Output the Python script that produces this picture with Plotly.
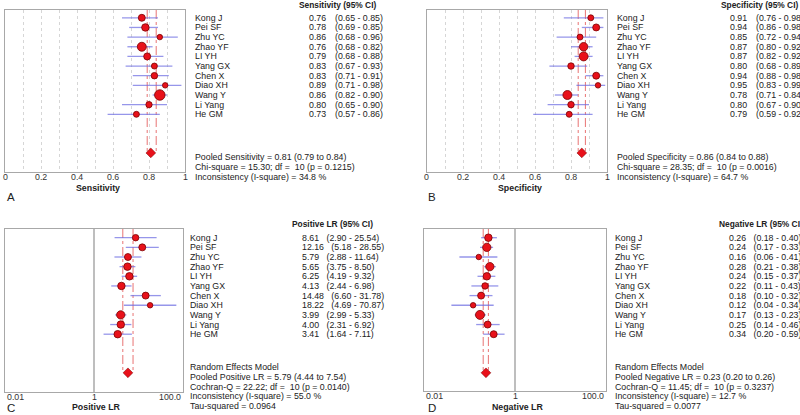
import numpy as np
import plotly.graph_objects as go

W, H = 800, 415
FONT = "Arial, Liberation Sans, sans-serif"
FS = 8.8

studies = ["Kong J", "Pei SF", "Zhu YC", "Zhao YF", "LI YH", "Yang GX",
           "Chen X", "Diao XH", "Wang Y", "Li Yang", "He GM"]

# Sensitivity
sens = [0.76, 0.78, 0.86, 0.76, 0.79, 0.83, 0.83, 0.89, 0.86, 0.80, 0.73]
sens_lo = [0.65, 0.69, 0.68, 0.68, 0.68, 0.67, 0.71, 0.71, 0.82, 0.65, 0.57]
sens_hi = [0.85, 0.85, 0.96, 0.82, 0.88, 0.93, 0.91, 0.98, 0.90, 0.90, 0.86]
sens_weight = [6.5, 7, 5, 8.5, 6.5, 5.5, 6, 5, 10, 5.8, 5.5]
sens_pooled = [0.81, 0.79, 0.84]
sens_stats = ["Pooled Sensitivity = 0.81 (0.79 to 0.84)",
              "Chi-square = 15.30; df = \u00a010 (p = 0.1215)",
              "Inconsistency (I-square) = 34.8 %"]

# Specificity
spec = [0.91, 0.94, 0.85, 0.87, 0.87, 0.80, 0.94, 0.95, 0.78, 0.80, 0.79]
spec_lo = [0.76, 0.86, 0.72, 0.80, 0.82, 0.68, 0.88, 0.83, 0.71, 0.67, 0.59]
spec_hi = [0.98, 0.98, 0.94, 0.92, 0.92, 0.89, 0.98, 0.99, 0.84, 0.90, 0.92]
spec_weight = [5.5, 6.5, 5.5, 8, 8.5, 6, 6.5, 5, 8.5, 6, 5.5]
spec_pooled = [0.86, 0.84, 0.88]
spec_stats = ["Pooled Specificity = 0.86 (0.84 to 0.88)",
              "Chi-square = 28.35; df = \u00a010 (p = 0.0016)",
              "Inconsistency (I-square) = 64.7 %"]

# Positive LR
plr = [8.61, 12.16, 5.79, 5.65, 6.25, 4.13, 14.48, 18.22, 3.99, 4.00, 3.41]
plr_lo = [2.90, 5.18, 2.88, 3.75, 4.19, 2.44, 6.60, 4.69, 2.99, 2.31, 1.64]
plr_hi = [25.54, 28.55, 11.64, 8.50, 9.32, 6.98, 31.78, 70.87, 5.33, 6.92, 7.11]
plr_weight = [6, 6.5, 6.5, 7, 7, 7, 6.5, 5, 7.8, 7, 7]
plr_pooled = [5.79, 4.44, 7.54]
plr_stats = ["Random Effects Model",
             "Pooled Positive LR = 5.79 (4.44 to 7.54)",
             "Cochran-Q = 22.22; df = \u00a010 (p = 0.0140)",
             "Inconsistency (I-square) = 55.0 %",
             "Tau-squared = 0.0964"]

# Negative LR
nlr = [0.26, 0.24, 0.16, 0.28, 0.24, 0.22, 0.18, 0.12, 0.17, 0.25, 0.34]
nlr_lo = [0.18, 0.17, 0.06, 0.21, 0.15, 0.11, 0.10, 0.04, 0.13, 0.14, 0.20]
nlr_hi = [0.40, 0.33, 0.41, 0.38, 0.37, 0.43, 0.32, 0.34, 0.23, 0.46, 0.59]
nlr_weight = [7, 7.8, 5, 7.8, 7, 6, 6.5, 5, 8.5, 6.5, 6.5]
nlr_pooled = [0.23, 0.20, 0.26]
nlr_stats = ["Random Effects Model",
             "Pooled Negative LR = 0.23 (0.20 to 0.26)",
             "Cochran-Q = 11.45; df = \u00a010 (p = 0.3237)",
             "Inconsistency (I-square) = 12.7 %",
             "Tau-squared = 0.0077"]

prop_ticks = [0, 0.2, 0.4, 0.6, 0.8, 1]
prop_ticktext = ["0", "0.2", "0.4", "0.6", "0.8", "1"]
lr_ticks = [0.01, 1, 100]
lr_ticktext = ["0.01", "1", "100.0"]


def px(x):
    return x / W


def py(y):
    return 1 - y / H


RED = "#e8111a"
DARK = "#7a0000"
CI_COL = "rgba(105,105,225,0.7)"
POOL_COL = "rgba(228,80,80,0.8)"

fig = go.Figure()
annotations = []

panels = [
    dict(name="A", est=sens, lo=sens_lo, hi=sens_hi, w=sens_weight, pool=sens_pooled,
         stats=sens_stats, header="Sensitivity (95% CI)", title="Sensitivity",
         frame=(5, 185, 10, 172), row0=17.8, dy=9.65, log=False,
         names_x=193, val_x=306.5, ci_x=333, head_x=297, stats_y=157,
         title_x=98, title_y=187.5, letter=(5, 197.5), head_y=5),
    dict(name="B", est=spec, lo=spec_lo, hi=spec_hi, w=spec_weight, pool=spec_pooled,
         stats=spec_stats, header="Specificity (95% CI)", title="Specificity",
         frame=(427, 607, 10, 172), row0=17.8, dy=9.65, log=False,
         names_x=615, val_x=728, ci_x=754, head_x=719, stats_y=157,
         title_x=520, title_y=187.5, letter=(426, 197.5), head_y=5),
    dict(name="C", est=plr, lo=plr_lo, hi=plr_hi, w=plr_weight, pool=plr_pooled,
         stats=plr_stats, header="Positive LR (95% CI)", title="Positive LR",
         frame=(5, 183, 229, 392), row0=237.7, dy=9.65, log=True,
         names_x=188, val_x=300, ci_x=None, head_x=290, stats_y=367,
         title_x=96, title_y=406.5, letter=(5, 408), head_y=224),
    dict(name="D", est=nlr, lo=nlr_lo, hi=nlr_hi, w=nlr_weight, pool=nlr_pooled,
         stats=nlr_stats, header="Negative LR (95% CI)", title="Negative LR",
         frame=(424, 606, 229, 391), row0=237.7, dy=9.65, log=True,
         names_x=613, val_x=726.5, ci_x=None, head_x=717, stats_y=367,
         title_x=517, title_y=406.5, letter=(426, 408), head_y=224),
]

for i, p in enumerate(panels, start=1):
    xa = "x" if i == 1 else f"x{i}"
    ya = "y" if i == 1 else f"y{i}"
    xkey = "xaxis" if i == 1 else f"xaxis{i}"
    ykey = "yaxis" if i == 1 else f"yaxis{i}"
    l, r, t, b = p["frame"]
    row0, dy = p["row0"], p["dy"]
    y_top = (t - row0) / dy
    y_bot = (b - row0) / dy
    n = len(studies)
    rows = list(range(n))
    pool_row = 14
    pe, plo, phi = p["pool"]

    # pooled CI reference lines
    fig.add_trace(go.Scatter(
        x=[plo, plo, None, phi, phi], y=[y_top, pool_row, None, y_top, pool_row],
        mode="lines", line=dict(color=POOL_COL, width=1, dash="dashdot"),
        xaxis=xa, yaxis=ya, showlegend=False, hoverinfo="skip"))

    if p["log"]:
        fig.add_trace(go.Scatter(
            x=[1, 1], y=[y_top, y_bot], mode="lines",
            line=dict(color="#a8a8a8", width=1.5),
            xaxis=xa, yaxis=ya, showlegend=False, hoverinfo="skip"))

    # confidence interval segments (behind markers)
    cx, cy = [], []
    for k in rows:
        cx += [p["lo"][k], p["hi"][k], None]
        cy += [k, k, None]
    fig.add_trace(go.Scatter(
        x=cx, y=cy, mode="lines", line=dict(color=CI_COL, width=1.3),
        xaxis=xa, yaxis=ya, showlegend=False, hoverinfo="skip"))

    # study estimates
    fig.add_trace(go.Scatter(
        x=p["est"], y=rows, mode="markers",
        marker=dict(size=[s + 0.5 for s in p["w"]], color=RED, opacity=1,
                    line=dict(color=DARK, width=0.8)),
        xaxis=xa, yaxis=ya, showlegend=False, hoverinfo="skip"))

    # pooled diamond
    fig.add_trace(go.Scatter(
        x=[pe], y=[pool_row], mode="markers",
        marker=dict(symbol="diamond", size=7.5, color=RED, opacity=1,
                    line=dict(color=DARK, width=0.5)),
        xaxis=xa, yaxis=ya, showlegend=False, hoverinfo="skip"))

    axis_common = dict(showline=True, linecolor="#a8a8a8", linewidth=1, mirror=True,
                       zeroline=False, fixedrange=True, showticklabels=False, ticks="")
    tick_font = dict(family=FONT, size=FS, color="#333")
    if p["log"]:
        fig.layout[xkey] = dict(
            type="log", range=[np.log10(lr_ticks[0]), np.log10(lr_ticks[-1])],
            domain=[px(l), px(r)], anchor=ya, showgrid=False, **axis_common)
        for k, (tv, tt) in enumerate(zip(lr_ticks, lr_ticktext)):
            anchor = "left" if k == 0 else ("right" if k == len(lr_ticks) - 1 else "center")
            annotations.append(dict(
                x=np.log10(tv), y=py(b + 5), xref=xa, yref="paper", text=tt,
                showarrow=False, xanchor=anchor, yanchor="middle", font=tick_font))
    else:
        fig.layout[xkey] = dict(
            range=[0, 1], domain=[px(l), px(r)], anchor=ya,
            tickvals=prop_ticks, showgrid=False,
            minor=dict(dtick=0.1, showgrid=True, gridcolor="#d6d6d6",
                       griddash="dot", gridwidth=1, tick0=0),
            **axis_common)
        for tv, tt in zip(prop_ticks, prop_ticktext):
            annotations.append(dict(
                x=tv, y=py(b + 5), xref=xa, yref="paper", text=tt,
                showarrow=False, xanchor="center", yanchor="middle", font=tick_font))
    fig.layout[ykey] = dict(range=[y_bot, y_top], domain=[py(b), py(t)], anchor=xa,
                            showgrid=False, **axis_common)

    tf = dict(family=FONT, size=FS, color="#222")
    annotations.append(dict(x=px(p["head_x"]), y=py(p["head_y"]), xref="paper", yref="paper",
                            text="<b>" + p["header"] + "</b>", showarrow=False,
                            xanchor="left", yanchor="middle",
                            font=dict(family=FONT, size=8.4, color="#222")))
    for k, s in enumerate(studies):
        annotations.append(dict(x=px(p["names_x"]), y=k, xref="paper", yref=ya, text=s,
                                showarrow=False, xanchor="left", yanchor="middle", font=tf))
        val = f"{p['est'][k]:.2f}"
        ci = f"({p['lo'][k]:.2f} - {p['hi'][k]:.2f})"
        if p["ci_x"] is not None:
            annotations.append(dict(x=px(p["val_x"]), y=k, xref="paper", yref=ya, text=val,
                                    showarrow=False, xanchor="left", yanchor="middle", font=tf))
            annotations.append(dict(x=px(p["ci_x"]), y=k, xref="paper", yref=ya, text=ci,
                                    showarrow=False, xanchor="left", yanchor="middle", font=tf))
        else:
            annotations.append(dict(x=px(p["val_x"]), y=k, xref="paper", yref=ya,
                                    text=val + "\u00a0\u00a0\u00a0" + ci,
                                    showarrow=False, xanchor="left", yanchor="middle", font=tf))
    for k, s in enumerate(p["stats"]):
        annotations.append(dict(x=px(p["names_x"]), y=py(p["stats_y"] + k * 9.75),
                                xref="paper", yref="paper", text=s, showarrow=False,
                                xanchor="left", yanchor="middle", font=tf))
    annotations.append(dict(x=px(p["title_x"]), y=py(p["title_y"]), xref="paper", yref="paper",
                            text="<b>" + p["title"] + "</b>", showarrow=False,
                            xanchor="center", yanchor="middle",
                            font=dict(family=FONT, size=FS, color="#222")))
    lx, ly = p["letter"]
    annotations.append(dict(x=px(lx), y=py(ly), xref="paper", yref="paper", text=p["name"],
                            showarrow=False, xanchor="left", yanchor="middle",
                            font=dict(family=FONT, size=11.5, color="#222")))

fig.update_layout(
    width=W, height=H, autosize=False,
    margin=dict(l=0, r=0, t=0, b=0),
    paper_bgcolor="white", plot_bgcolor="white",
    annotations=annotations, showlegend=False,
)

fig.write_html(
    "out.html",
    config={"displayModeBar": False},
    post_script="document.body.style.margin='0px';document.body.style.overflow='hidden';",
)
